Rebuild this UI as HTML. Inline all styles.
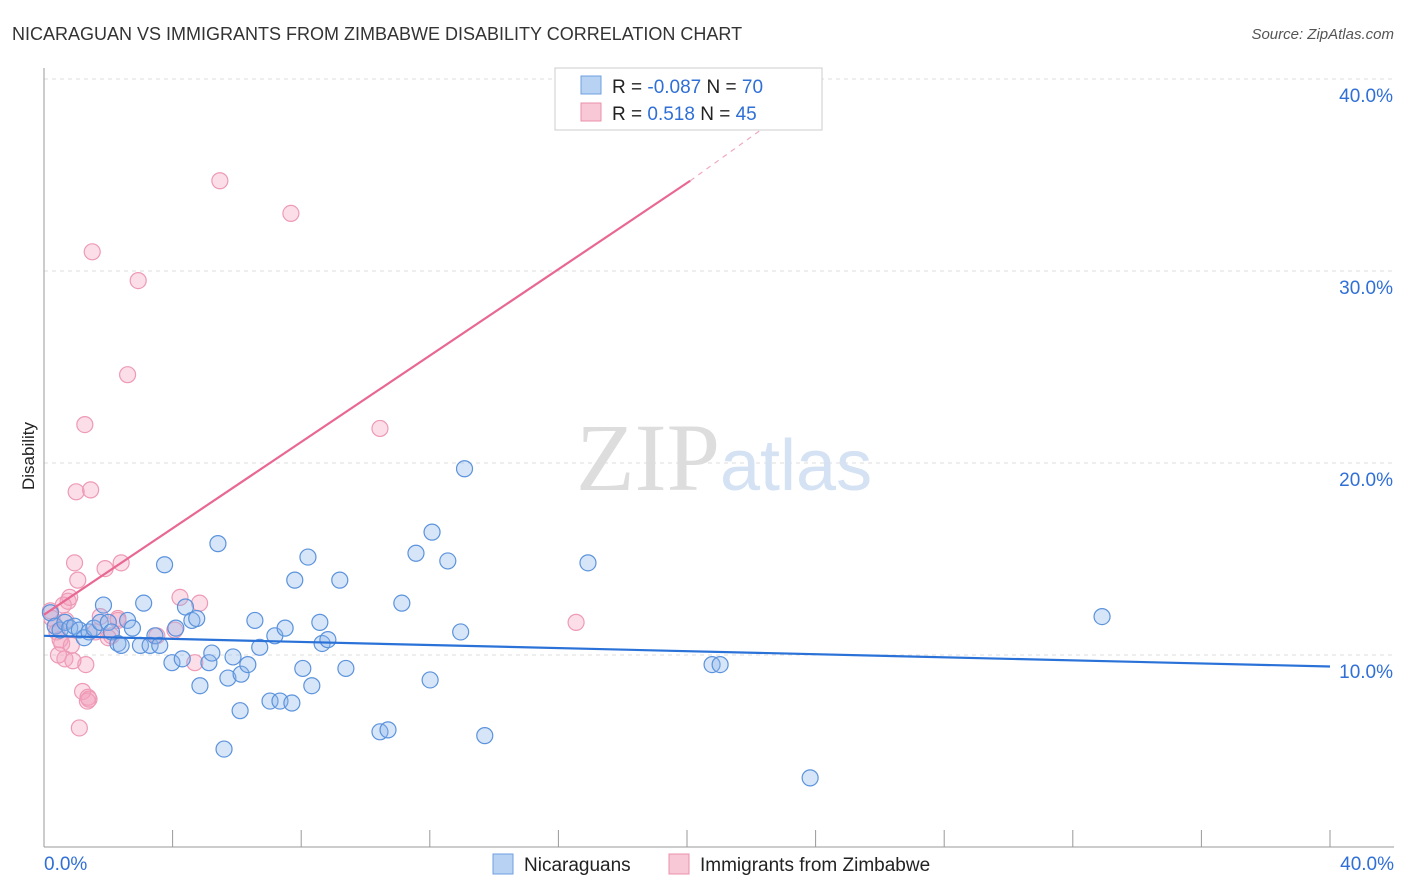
<!DOCTYPE html>
<html><head><meta charset="utf-8"><style>
body{margin:0;background:#fff;font-family:"Liberation Sans",sans-serif;}
svg{display:block}
</style></head><body>
<svg id="c" width="1406" height="892">
<text x="12" y="40" font-size="18" fill="#333">NICARAGUAN VS IMMIGRANTS FROM ZIMBABWE DISABILITY CORRELATION CHART</text>
<text x="1394" y="39" font-size="15" fill="#555" font-style="italic" text-anchor="end">Source: ZipAtlas.com</text>
<text x="34" y="456" font-size="17" fill="#222" transform="rotate(-90 34 456)" text-anchor="middle">Disability</text>
<g id="grid"></g>
<text x="720" y="490" font-size="96" fill="#ddd" text-anchor="end" font-family="Liberation Serif">ZIP</text>
<text x="720" y="490" font-size="72" fill="#d4e2f4">atlas</text>
<g id="pts"></g>
<g id="lines"></g>
<g>
<rect x="555" y="68" width="267" height="62" fill="#fff" stroke="#ccc"/>
<rect x="581" y="76" width="20" height="18" fill="#b7d2f3" stroke="#6fa0e0"/>
<rect x="581" y="103" width="20" height="18" fill="#f9c8d6" stroke="#ec90ac"/>
<text x="612" y="93" font-size="19" fill="#222">R = <tspan fill="#2f6fd6">-0.087</tspan>   N = <tspan fill="#2f6fd6">70</tspan></text>
<text x="612" y="120" font-size="19" fill="#222">R =    <tspan fill="#2f6fd6">0.518</tspan>   N = <tspan fill="#2f6fd6">45</tspan></text>
</g>
<g>
<rect x="493" y="854" width="20" height="20" fill="#b7d2f3" stroke="#6fa0e0"/>
<text x="524" y="871" font-size="19" fill="#222">Nicaraguans</text>
<rect x="669" y="854" width="20" height="20" fill="#f9c8d6" stroke="#ec90ac"/>
<text x="700" y="871" font-size="19" fill="#222">Immigrants from Zimbabwe</text>
</g>
</svg>
<script>
const yTicks=[10,20,30,40];
const yTickLabels=["10.0%","20.0%","30.0%","40.0%"];
const blueX=[0.2,0.35,0.5,0.65,0.8,0.95,1.1,1.25,1.4,1.55,1.75,1.85,2.0,2.1,2.3,2.4,2.6,2.75,3.0,3.1,3.3,3.45,3.6,3.75,3.98,4.1,4.3,4.4,4.6,4.75,4.85,5.13,5.22,5.41,5.6,5.72,5.88,6.1,6.13,6.34,6.56,6.71,7.03,7.18,7.34,7.5,7.71,7.8,8.05,8.21,8.33,8.58,8.65,8.83,9.2,9.39,10.45,10.7,11.13,11.57,12.01,12.07,12.56,12.96,13.08,13.71,16.92,20.78,21.03,23.83,32.91];
const blueY=[12.2,11.5,11.3,11.7,11.4,11.5,11.3,10.9,11.2,11.4,11.7,12.6,11.7,11.2,10.6,10.5,11.8,11.4,10.5,12.7,10.5,11.0,10.5,14.7,9.6,11.4,9.8,12.5,11.8,11.9,8.4,9.6,10.1,15.8,5.1,8.8,9.9,7.1,9.0,9.5,11.8,10.4,7.6,11.0,7.6,11.4,7.5,13.9,9.3,15.1,8.4,11.7,10.6,10.8,13.9,9.3,6.0,6.1,12.7,15.3,8.7,16.4,14.9,11.2,19.7,5.8,14.8,9.5,9.5,3.6,12.0];
const pinkX=[0.2,0.25,0.35,0.4,0.5,0.55,0.65,0.75,0.8,0.85,0.95,1.0,1.05,1.1,1.2,1.27,1.3,1.37,1.4,1.45,1.5,1.6,1.75,1.9,2.1,2.3,2.4,2.6,2.93,3.51,4.23,4.69,4.84,5.47,7.68,10.45,16.55,0.45,0.6,0.68,0.9,1.35,2.0,2.3,4.07];
const pinkY=[12.3,11.9,11.5,11.2,10.8,10.6,9.8,12.8,13.0,10.5,14.8,18.5,13.9,6.2,8.1,22.0,9.5,7.8,7.7,18.6,31.0,11.2,12.0,14.5,11.0,11.9,14.8,24.6,29.5,11.0,13.0,9.6,12.7,34.7,33.0,21.8,11.7,10.0,12.6,11.8,9.7,7.6,10.9,11.8,11.3];
const X0=44,X1=1330,Y0=847,PX=(X1-X0)/40,PY=19.2;
const sx=v=>X0+v*PX, sy=v=>Y0-v*PY;
const NS="http://www.w3.org/2000/svg";
function mk(t,a,p){const e=document.createElementNS(NS,t);for(const k in a)e.setAttribute(k,a[k]);p.appendChild(e);return e;}
const g=document.getElementById('grid');
yTicks.forEach((t,i)=>{
 const l=mk('line',{x1:X0,x2:1394,y1:sy(t),y2:sy(t),stroke:'#ddd','stroke-dasharray':'4,4'},g);
 
 
 const tx=mk('text',{x:1393,y:sy(t)+23,'font-size':19,fill:'#2f6fd6','text-anchor':'end'},g);
 tx.textContent=yTickLabels[i];
 
 
});
const ax=mk('line',{x1:X0,x2:1394,y1:Y0,y2:Y0,stroke:'#999'},g);


const ay=mk('line',{x1:X0,x2:X0,y1:68,y2:Y0,stroke:'#999'},g);


for(let i=0;i<=10;i++){const t=mk('line',{x1:sx(i*4),x2:sx(i*4),y1:830,y2:Y0,stroke:'#999'},g);
 
 }
const xl=mk('text',{x:44,y:870,'font-size':19,fill:'#2f6fd6'},g);xl.textContent="0.0%";


const xr=mk('text',{x:1394,y:870,'font-size':19,fill:'#2f6fd6','text-anchor':'end'},g);xr.textContent="40.0%";


const P=document.getElementById('pts');
pinkX.forEach((x,i)=>{const c=mk('circle',{cx:sx(x),cy:sy(pinkY[i]),r:8,fill:'rgba(244,160,188,0.35)',stroke:'#ee9ab5','stroke-width':1.2},P);
 
 });
blueX.forEach((x,i)=>{const c=mk('circle',{cx:sx(x),cy:sy(blueY[i]),r:8,fill:'rgba(140,180,235,0.35)',stroke:'#5b93dc','stroke-width':1.2},P);
 
 });
const L=document.getElementById('lines');
const bl=mk('line',{x1:sx(0),y1:sy(11.0),x2:sx(40),y2:sy(9.4),stroke:'#2a72d8','stroke-width':2.2},L);


const pl=mk('line',{x1:sx(0),y1:sy(12.1),x2:sx(20.1),y2:sy(34.7),stroke:'#e86892','stroke-width':2.2},L);


const pd=mk('line',{x1:sx(20.1),y1:sy(34.7),x2:sx(23.5),y2:sy(38.8),stroke:'#f0a8c0','stroke-width':1.2,'stroke-dasharray':'5,5'},L);


</script>
</body></html>
